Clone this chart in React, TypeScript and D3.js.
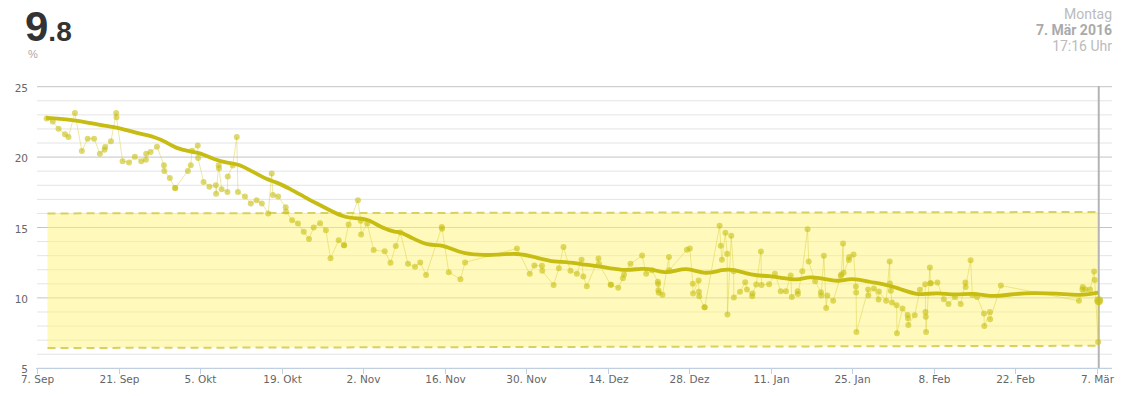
import React from "react";
import * as d3 from "d3";

const START = Date.UTC(2015, 8, 7);
const DAY_MS = 864e5;

// measured points: days since 7 Sep 2015, value in %
const pointDays = [
  1.66, 2.7, 3.7, 4.8, 5.4, 6.5, 7.7, 8.7, 9.8, 10.8, 11.6, 11.7, 12.7, 13.6, 13.65, 14.7, 15.8, 16.8,
  17.9, 18.7, 18.75, 19.5, 20.6, 21.8, 21.85, 22.8, 23.7, 23.75, 25.9, 26.4, 26.6, 27.6, 27.65, 28.6,
  29.6, 30.7, 30.75, 31.2, 31.25, 31.7, 32.7, 32.75, 33.6, 34.3, 34.5, 35.7, 36.7, 37.7, 38.6, 39.7,
  40.3, 40.5, 41.4, 42.7, 42.75, 43.8, 44.8, 45.8, 46.7, 47.5, 48.6, 49.6, 50.4, 51.8, 52.7, 52.75,
  53.5, 55.1, 55.6, 55.65, 56.7, 57.8, 59.7, 60.7, 61.6, 62.4, 63.7, 64.9, 65.8, 66.8, 69.5, 69.55,
  70.7, 72.7, 73.5, 82.4, 84.6, 85.4, 86.7, 86.75, 88.7, 89.6, 90.4, 91.6, 92.7, 93.5, 93.8, 94.4,
  96.4, 96.5, 98.5, 98.55, 99.8, 100.6, 100.8, 101.9, 103.9, 104.6, 105.6, 106.6, 106.65, 106.7,
  106.75, 107.4, 108.5, 108.55, 111.6, 112.1, 112.6, 112.65, 113.6, 113.65, 113.7, 114.6, 114.65,
  117.2, 117.4, 117.6, 118.2, 118.5, 118.55, 119.2, 119.6, 119.65, 120.7, 121.6, 121.9, 122.8,
  122.85, 123.5, 124.3, 124.4, 125.7, 126.7, 127.7, 128.6, 129.4, 129.6, 130.6, 130.65, 131.4,
  132.3, 132.5, 133.6, 134.6, 134.65, 135.1, 135.5, 135.7, 136.7, 138.0, 138.1, 138.4, 138.5,
  139.4, 139.45, 140.2, 140.6, 140.65, 140.7, 142.7, 142.75, 143.7, 144.5, 144.55, 145.8, 146.4,
  146.45, 146.6, 146.8, 147.6, 147.65, 148.6, 149.5, 149.55, 149.6, 150.7, 151.6, 152.5, 152.55,
  152.6, 152.65, 153.3, 153.4, 153.45, 154.6, 155.7, 156.5, 157.6, 158.6, 159.4, 159.45, 160.3,
  160.6, 161.4, 162.6, 162.65, 163.6, 163.65, 165.5, 178.9, 179.5, 179.55, 180.0, 180.8, 181.5,
  181.6, 182.2, 182.3,
];
const pointValues = [
  22.74, 22.52, 22.02, 21.62, 21.43, 23.14, 20.43, 21.31, 21.31, 20.24, 20.52, 20.71, 21.12, 23.14,
  22.83, 19.71, 19.62, 20.02, 19.71, 19.81, 20.24, 20.36, 20.74, 19.43, 19.02, 18.52, 17.81, 17.81,
  19.02, 19.43, 20.45, 20.83, 19.93, 18.24, 17.9, 18.0, 17.4, 19.43, 19.21, 17.71, 17.52, 18.62,
  19.4, 21.43, 17.52, 17.21, 16.71, 16.93, 16.71, 16.0, 18.83, 17.31, 17.21, 16.43, 16.14, 15.52,
  15.29, 14.69, 14.19, 15.0, 15.31, 14.81, 12.81, 14.1, 13.74, 13.74, 15.21, 16.93, 15.48, 14.5,
  15.29, 13.4, 13.31, 12.5, 13.69, 14.65, 12.42, 12.21, 12.52, 11.62, 15.03, 14.91, 11.83, 11.33,
  12.52, 13.51, 11.71, 12.3, 12.28, 11.92, 10.91, 12.11, 13.61, 11.92, 11.71, 12.71, 11.52, 10.83,
  12.8, 12.4, 10.93, 10.93, 10.72, 11.4, 11.66, 12.42, 13.01, 11.71, 11.97, 11.14, 10.98, 10.55,
  10.36, 10.22, 12.9, 11.97, 13.42, 13.51, 11.0, 10.31, 11.24, 10.43, 10.12, 9.34, 9.34, 15.12,
  13.7, 12.71, 14.63, 13.13, 8.82, 14.41, 11.9, 10.03, 10.43, 11.12, 10.6, 10.12, 10.31, 10.95,
  13.29, 10.92, 10.97, 11.71, 10.47, 10.47, 11.59, 10.07, 10.47, 10.28, 11.9, 14.88, 12.58, 11.18,
  10.4, 10.17, 12.99, 9.29, 10.17, 9.79, 11.56, 11.66, 13.86, 11.78, 12.7, 12.91, 13.08, 10.81,
  10.38, 7.58, 10.59, 10.17, 10.66, 9.88, 10.45, 9.79, 12.58, 11.02, 10.5, 9.67, 9.48, 7.49, 9.24,
  8.79, 8.55, 8.08, 8.77, 10.57, 10.97, 9.0, 8.67, 7.58, 12.16, 11.04, 11.04, 11.09, 9.9, 9.57,
  10.07, 9.57, 11.09, 10.78, 12.68, 10.21, 10.07, 8.89, 8.0, 9.0, 8.48, 10.88, 9.79, 10.59, 10.78,
  10.6, 10.59, 11.87, 11.28, 6.87, 9.8,
];

// smoothed trend line
const trendDays = [
  1.55, 6.5, 8.4, 11.8, 13.6, 17, 20.4, 22.2, 23.9, 26.2, 27.9, 30.7, 33, 34.5, 37, 39.6, 41, 43.3,
  46.8, 49, 52.5, 55.3, 56.8, 59.4, 61.6, 62.4, 64.5, 67.4, 69.5, 72.5, 75.9, 78.8, 82.5, 85.7, 89.1,
  90.5, 93.7, 96.5, 100.6, 104, 105.7, 107.7, 109.7, 111.7, 114.9, 117.7, 119.7, 121.7, 123.5, 125.7,
  128, 130.6, 132.6, 135.5, 137.5, 139.8, 142.9, 146.3, 148.6, 150.9, 152.6, 154.6, 157.8, 160.6,
  164.1, 167, 171, 175, 178.9, 180.6, 182.2,
];
const trendValues = [
  22.79, 22.62, 22.48, 22.19, 22.14, 21.71, 21.43, 21.05, 20.62, 20.4, 20.33, 19.76, 19.57, 19.52,
  18.98, 18.38, 18.24, 17.79, 16.95, 16.52, 15.71, 15.64, 15.6, 14.93, 14.66, 14.7, 14.22, 13.68,
  13.82, 13.2, 13.04, 13.04, 13.2, 12.87, 12.52, 12.59, 12.37, 12.26, 11.9, 12.11, 12.02, 11.76,
  11.92, 12.16, 11.63, 12.04, 12.02, 11.73, 11.59, 11.56, 11.42, 11.23, 11.54, 11.33, 11.14, 11.42,
  11.14, 10.9, 10.57, 10.26, 10.26, 10.38, 10.17, 10.38, 10.05, 10.26, 10.36, 10.31, 10.19, 10.26,
  10.38,
];

// target band
const bandDays = [1.8, 182.3];
const bandUpper = [16.0, 16.1];
const bandLower = [6.44, 6.6];

const yTicks = [5, 10, 15, 20, 25];
const xTickLabels = [
  "7. Sep", "21. Sep", "5. Okt", "19. Okt", "2. Nov", "16. Nov", "30. Nov",
  "14. Dez", "28. Dez", "11. Jan", "25. Jan", "8. Feb", "22. Feb", "7. Mär",
];

const toDate = (d: number) => new Date(START + d * DAY_MS);

const App = () => {
  const left = 37;
  const right = 1112;
  const x = d3
    .scaleUtc()
    .domain([toDate(0), toDate(182)])
    .range([37, 1097]);
  const y = d3.scaleLinear().domain([5, 25]).range([368.3, 86.7]);

  const points = pointDays.map((d, i) => ({ date: toDate(d), v: pointValues[i] }));
  const trend = trendDays.map((d, i) => ({ date: toDate(d), v: trendValues[i] }));
  const band = bandDays.map((d, i) => ({ date: toDate(d), hi: bandUpper[i], lo: bandLower[i] }));

  const line = d3
    .line<{ date: Date; v: number }>()
    .x((d) => x(d.date))
    .y((d) => y(d.v));
  const smooth = d3
    .line<{ date: Date; v: number }>()
    .x((d) => x(d.date))
    .y((d) => y(d.v))
    .curve(d3.curveBasis);
  const bandArea = d3
    .area<{ date: Date; hi: number; lo: number }>()
    .x((d) => x(d.date))
    .y0((d) => y(d.lo))
    .y1((d) => y(d.hi));

  const last = points[points.length - 1];
  const ticks = xTickLabels.map((label, i) => ({ label, date: d3.utcDay.offset(toDate(0), i * 14) }));

  return (
    <svg
      width={1126}
      height={396}
      style={{ position: "absolute", left: 0, top: 0, background: "#fff" }}
    >
      {/* header */}
      <text x={25} y={41} fontFamily="Liberation Sans, Arial" fontWeight="bold" fontSize={42} fill="#333">
        9<tspan fontSize={28}>.8</tspan>
      </text>
      <text x={28} y={58} fontFamily="Liberation Sans, Arial" fontSize={11} fill="#aaa">
        %
      </text>
      <g fontFamily="Roboto, Liberation Sans" fontSize={14} textAnchor="end">
        <text x={1112} y={18.5} fill="#bbb">Montag</text>
        <text x={1112} y={35} fill="#aaa" fontWeight="bold">7. Mär 2016</text>
        <text x={1112} y={50.5} fill="#bbb">17:16 Uhr</text>
      </g>

      {/* grid */}
      {d3.range(5, 26).map((v) => (
        <line
          key={v}
          x1={left}
          x2={right}
          y1={y(v)}
          y2={y(v)}
          stroke={v % 5 === 0 ? "#c4c4c4" : "#e4e4e4"}
          strokeWidth={1}
        />
      ))}

      {/* band */}
      <path d={bandArea(band) || ""} fill="rgba(255,246,120,0.5)" />
      {[bandUpper, bandLower].map((arr, k) => (
        <line
          key={k}
          x1={x(band[0].date)}
          x2={x(band[1].date)}
          y1={y(arr[0])}
          y2={y(arr[1])}
          stroke="#d9d062"
          strokeWidth={2}
          strokeDasharray="8,5"
        />
      ))}

      {/* crosshair */}
      <line x1={x(last.date)} x2={x(last.date)} y1={86} y2={368} stroke="#b4b4b4" strokeWidth={2} />

      {/* raw values */}
      <path d={line(points) || ""} fill="none" stroke="#d6cd3a" strokeOpacity={0.45} strokeWidth={1} />
      <path d={smooth(trend) || ""} fill="none" stroke="#c6bc12" strokeWidth={3.8} strokeLinejoin="round" />
      {points.map((p, i) => (
        <circle key={i} cx={x(p.date)} cy={y(p.v)} r={3} fill="#c8bf16" fillOpacity={0.6} />
      ))}
      <circle cx={x(last.date)} cy={y(last.v)} r={4.5} fill="#c8bf16" fillOpacity={0.75} />

      {/* axes */}
      <line x1={left - 1} x2={right} y1={368.5} y2={368.5} stroke="#c0d0e0" />
      {ticks.map((t, i) => (
        <g key={i} transform={`translate(${Math.round(x(t.date)) + 0.5},0)`}>
          <line y1={368.5} y2={374} stroke="#c0d0e0" />
          <text y={383} textAnchor="middle" fontFamily="DejaVu Sans, Verdana" fontSize={10.5} fill="#666">
            {t.label}
          </text>
        </g>
      ))}
      {yTicks.map((v) => (
        <text
          key={v}
          x={28}
          y={y(v) + 5}
          textAnchor="end"
          fontFamily="DejaVu Sans, Verdana"
          fontSize={10.5}
          fill="#666"
        >
          {v}
        </text>
      ))}
    </svg>
  );
};

export default App;
